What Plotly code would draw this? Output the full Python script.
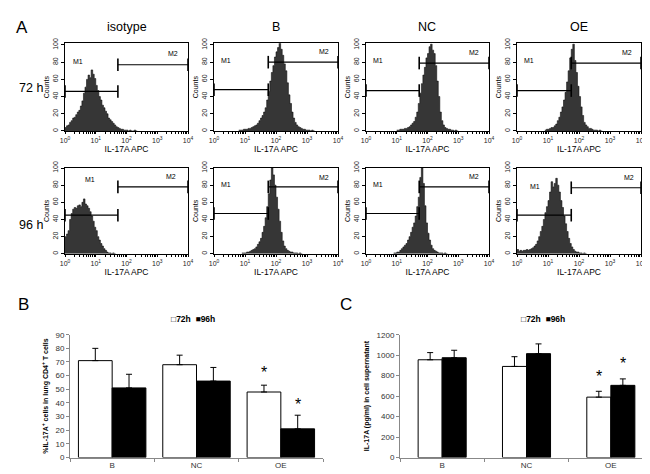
import plotly.graph_objects as go

W, H = 650, 474
FONT = "Arial, Liberation Sans, sans-serif"

# ---------------- Panel A: flow cytometry histograms ----------------
column_titles = ["isotype", "B", "NC", "OE"]
row_titles = ["72 h", "96 h"]
bin_step = 0.05  # histogram bin width in decades (log10 IL-17A APC)

# counts per bin, starting at the given log10 value
iso_72_start = 0.0
iso_72_counts = [4, 6, 7, 10, 12, 15, 16, 19, 22, 24, 29, 35, 44, 51, 60, 65, 62, 71, 66, 61,
                 53, 47, 40, 36, 30, 27, 23, 20, 15, 13, 11, 9, 7, 5, 4, 3, 2, 2, 1, 1,
                 1, 0, 1, 0, 0, 1, 0]
b_72_start = 0.8
b_72_counts = [1, 1, 1, 2, 2, 2, 3, 3, 4, 5, 6, 7, 9, 12, 15, 18, 22, 27, 36, 46,
               58, 68, 76, 86, 92, 97, 103, 95, 88, 78, 70, 56, 42, 32, 22, 15, 10, 7, 5, 4,
               3, 2, 2, 1, 1, 1, 0, 1, 0]
nc_72_start = 1.0
nc_72_counts = [1, 1, 2, 2, 2, 3, 3, 4, 5, 7, 9, 11, 16, 22, 32, 44, 55, 65, 74, 85,
                90, 98, 101, 94, 90, 76, 58, 40, 22, 12, 7, 4, 3, 2, 2, 1, 1, 0, 1, 0]
oe_72_start = 0.9
oe_72_counts = [1, 2, 2, 3, 4, 4, 6, 8, 12, 16, 22, 28, 36, 45, 57, 70, 85, 95, 101, 82,
                68, 52, 40, 28, 18, 10, 7, 5, 3, 3, 2, 1, 1, 1, 0, 1, 0]
iso_96_start = 0.0
iso_96_counts = [20, 23, 27, 40, 47, 52, 54, 53, 56, 57, 55, 60, 64, 58, 56, 53, 49, 44, 38, 31,
                 27, 20, 16, 12, 9, 6, 4, 2, 1, 1, 0, 1, 0]
b_96_start = 0.9
b_96_counts = [1, 1, 1, 2, 2, 3, 4, 5, 6, 8, 11, 14, 18, 25, 32, 42, 55, 70, 86, 100,
               92, 80, 66, 52, 38, 25, 15, 9, 6, 4, 3, 2, 2, 1, 1, 1, 0, 1, 0]
nc_96_start = 0.9
nc_96_counts = [1, 1, 2, 2, 4, 6, 8, 10, 12, 16, 20, 25, 31, 36, 44, 55, 66, 89, 100, 82,
                56, 36, 24, 16, 10, 6, 4, 3, 2, 1, 1, 1, 0, 1, 0]
oe_96_start = 0.0
oe_96_counts = [5, 3, 4, 3, 4, 4, 5, 4, 5, 6, 7, 9, 11, 15, 20, 26, 32, 40, 48, 55,
                62, 72, 84, 78, 82, 88, 80, 72, 62, 54, 44, 35, 26, 18, 12, 8, 5, 3, 2, 2,
                1, 1, 0, 1, 0]

# gates (log10 boundary between M1 and M2, heights of M1 and M2 bars)
gate_split = [1.72, 1.75, 1.73, 1.75, 1.72, 1.75, 1.73, 1.75]
gate_m1_y = [46, 48, 47, 47, 45, 47, 47, 45]
gate_m2_y = [77, 80, 79, 79, 78, 78, 78, 77]
m1_label_x = [0.43, 0.40, 0.40, 0.40, 0.80, 0.38, 0.40, 0.57]
m1_label_y = [81, 82, 82, 82, 87, 81, 81, 79]
m2_label_x = [3.50, 3.55, 3.50, 3.55, 3.45, 3.55, 3.50, 3.60]
m2_label_y = [90, 92, 91, 91, 90, 89, 90, 89]

hist_starts = [iso_72_start, b_72_start, nc_72_start, oe_72_start,
               iso_96_start, b_96_start, nc_96_start, oe_96_start]
hist_counts = [iso_72_counts, b_72_counts, nc_72_counts, oe_72_counts,
               iso_96_counts, b_96_counts, nc_96_counts, oe_96_counts]

decade_exponents = [0, 1, 2, 3, 4]
count_tick_step = 20

# ---------------- Panels B and C: bar charts ----------------
categories = ["B", "NC", "OE"]
pct_72h = [71, 68, 48]
pct_72h_err = [9, 7, 5]
pct_96h = [51, 56, 21]
pct_96h_err = [10, 10, 10]
pct_star_72h = [None, None, 62]
pct_star_96h = [None, None, 39]

il17_72h = [955, 890, 590]
il17_72h_err = [70, 95, 57]
il17_96h = [975, 1015, 705]
il17_96h_err = [73, 95, 63]
il17_star_72h = [None, None, 795]
il17_star_96h = [None, None, 915]

# ---------------- layout geometry (pixels) ----------------
col_px = [(57, 180), (206, 330), (358, 481), (509, 633)]
row_px = [(29, 119), (157, 245)]
row_ymax = [102, 100]


def xd(a, b):
    return [a / W, b / W]


def yd(top, bottom):
    return [1 - bottom / H, 1 - top / H]


# log axis ticks: every 1..9 x 10^k, labelled only at the decades
log_tickvals, log_ticktext = [], []
for e in decade_exponents:
    for m in (range(1, 10) if e < decade_exponents[-1] else [1]):
        log_tickvals.append(m * 10 ** e)
        log_ticktext.append(f"10<sup>{e}</sup>" if m == 1 else "")

fig = go.Figure()
layout = dict(template="none", width=W, height=H, margin=dict(l=0, r=0, t=0, b=0, pad=0),
              autosize=False,
              paper_bgcolor="white", plot_bgcolor="white", showlegend=False,
              font=dict(family=FONT, color="black"), annotations=[])
ann = layout["annotations"]

for i in range(8):
    r, c = divmod(i, 4)
    n = i + 1
    sx = "" if n == 1 else str(n)
    xref, yref = "x" + sx, "y" + sx
    start, counts = hist_starts[i], hist_counts[i]
    xs = [10 ** (start + k * bin_step) for k in range(len(counts) + 1)]
    ys = list(counts) + [0]
    fig.add_trace(go.Scatter(x=xs, y=ys, mode="lines", line=dict(color="#111111", width=0.6, shape="hv"),
                             fill="tozeroy", fillcolor="#363636", xaxis=xref, yaxis=yref, hoverinfo="skip"))
    split = 10 ** gate_split[i]
    gate_marker = dict(symbol="line-ns", size=9, line=dict(width=1.6, color="black"), color="black")
    fig.add_trace(go.Scatter(x=[1, split], y=[gate_m1_y[i]] * 2, mode="lines+markers",
                             line=dict(color="black", width=1.2), marker=gate_marker,
                             cliponaxis=False, xaxis=xref, yaxis=yref, hoverinfo="skip"))
    fig.add_trace(go.Scatter(x=[split, 10000], y=[gate_m2_y[i]] * 2, mode="lines+markers",
                             line=dict(color="black", width=1.2), marker=gate_marker,
                             cliponaxis=False, xaxis=xref, yaxis=yref, hoverinfo="skip"))
    ann.append(dict(x=m1_label_x[i], y=m1_label_y[i], xref=xref, yref=yref, text="M1",
                    showarrow=False, font=dict(size=7, color="black")))
    ann.append(dict(x=m2_label_x[i], y=m2_label_y[i], xref=xref, yref=yref, text="M2",
                    showarrow=False, font=dict(size=7, color="black")))
    layout["xaxis" + sx] = dict(
        domain=xd(*col_px[c]), anchor=yref, type="log", range=[0, 4], automargin=False,
        tickmode="array", tickvals=log_tickvals, ticktext=log_ticktext,
        ticks="outside", ticklen=2.5, tickcolor="black", tickfont=dict(size=7, color="#222"),
        showline=True, linecolor="black", linewidth=1, mirror=True, showgrid=False, zeroline=False,
        title=dict(text="IL-17A APC", font=dict(size=8.5), standoff=1))
    layout["yaxis" + sx] = dict(
        domain=yd(*row_px[r]), anchor=xref, range=[0, row_ymax[r]], automargin=True,
        ticklabeloverflow="allow",
        tickmode="linear", tick0=0, dtick=count_tick_step, tickangle=-90,
        ticks="outside", ticklen=3, tickcolor="black",
        tickfont=dict(size=7, color="#222"), showline=True, linecolor="black", linewidth=1,
        mirror=True, showgrid=False, zeroline=False,
        title=dict(text="Counts", font=dict(size=7), standoff=1))

# ---- bar charts ----
bar_specs = [
    ("9", (62, 315), 0.40, pct_72h, pct_72h_err, pct_96h, pct_96h_err, pct_star_72h, pct_star_96h,
     [0, 90], 10, "<b>%IL-17A<sup>+</sup> cells in lung CD4<sup>+</sup> T cells</b>"),
    ("10", (392, 645), 0.285, il17_72h, il17_72h_err, il17_96h, il17_96h_err, il17_star_72h, il17_star_96h,
     [0, 1200], 200, "<b>IL-17A (pg/ml) in cell supernatant</b>"),
]
for (sx, (x0, x1), bw, v72, e72, v96, e96, s72, s96, yr, dt, ytitle) in bar_specs:
    xref, yref = "x" + sx, "y" + sx
    err_style = dict(type="data", symmetric=False, color="black", thickness=1, width=3)
    fig.add_trace(go.Bar(x=categories, y=v72, width=bw, offset=-bw,
                         marker=dict(color="white", line=dict(color="black", width=1)),
                         error_y=dict(array=e72, arrayminus=[0] * len(e72), **err_style),
                         xaxis=xref, yaxis=yref, name="72h"))
    fig.add_trace(go.Bar(x=categories, y=v96, width=bw, offset=0,
                         marker=dict(color="black", line=dict(color="black", width=1)),
                         error_y=dict(array=e96, arrayminus=[0] * len(e96), **err_style),
                         xaxis=xref, yaxis=yref, name="96h"))
    cat_px = (x1 - x0) / len(categories)
    shift = bw * cat_px / 2
    for cat, a, b in zip(categories, s72, s96):
        if a is not None:
            ann.append(dict(x=cat, y=a, xref=xref, yref=yref, text="*", showarrow=False,
                            xshift=-shift, font=dict(size=16)))
        if b is not None:
            ann.append(dict(x=cat, y=b, xref=xref, yref=yref, text="*", showarrow=False,
                            xshift=shift, font=dict(size=16)))
    layout["xaxis" + sx] = dict(domain=xd(x0, x1), anchor=yref, type="category", automargin=False,
                                showline=True, linecolor="#888", linewidth=1,
                                ticks="outside", tickson="boundaries", ticklen=3, tickcolor="#888",
                                tickfont=dict(size=8, color="#333"), showgrid=False)
    layout["yaxis" + sx] = dict(domain=yd(328, 454), anchor=xref, range=yr, dtick=dt, tick0=0,
                                tickmode="linear", automargin=True, ticklabeloverflow="allow",
                                showline=True, linecolor="#888", linewidth=1,
                                ticks="outside", ticklen=3, tickcolor="#888",
                                tickfont=dict(size=8, color="#333"), showgrid=False, zeroline=False,
                                title=dict(text=ytitle, font=dict(size=7), standoff=6))
    # legend drawn as text
    ann.append(dict(x=(x0 + x1) / 2 / W + (-0.005 if sx == "9" else 0.025), y=1 - 312 / H,
                    xref="paper", yref="paper", xanchor="center", yanchor="middle",
                    text="<b>\u25a172h  \u25a096h</b>", showarrow=False, font=dict(size=8.5)))

layout["barmode"] = "overlay"

# panel labels and headers
for txt, px, py, sz in [("A", 14, 13, 17), ("B", 15, 297, 17), ("C", 338, 297, 17)]:
    ann.append(dict(x=px / W, y=1 - py / H, xref="paper", yref="paper", text=txt,
                    xanchor="center", yanchor="middle", showarrow=False, font=dict(size=sz)))
for c, t in enumerate(column_titles):
    cx = (col_px[c][0] + col_px[c][1]) / 2
    ann.append(dict(x=cx / W, y=1 - 12 / H, xref="paper", yref="paper", text=t,
                    xanchor="center", yanchor="middle", showarrow=False, font=dict(size=12.5)))
for r, t in enumerate(row_titles):
    cy = 75 if r == 0 else 215
    ann.append(dict(x=23 / W, y=1 - cy / H, xref="paper", yref="paper", text=t,
                    xanchor="center", yanchor="middle", showarrow=False, font=dict(size=12.5)))

fig.update_layout(**layout)
fig.write_html("out.html")
